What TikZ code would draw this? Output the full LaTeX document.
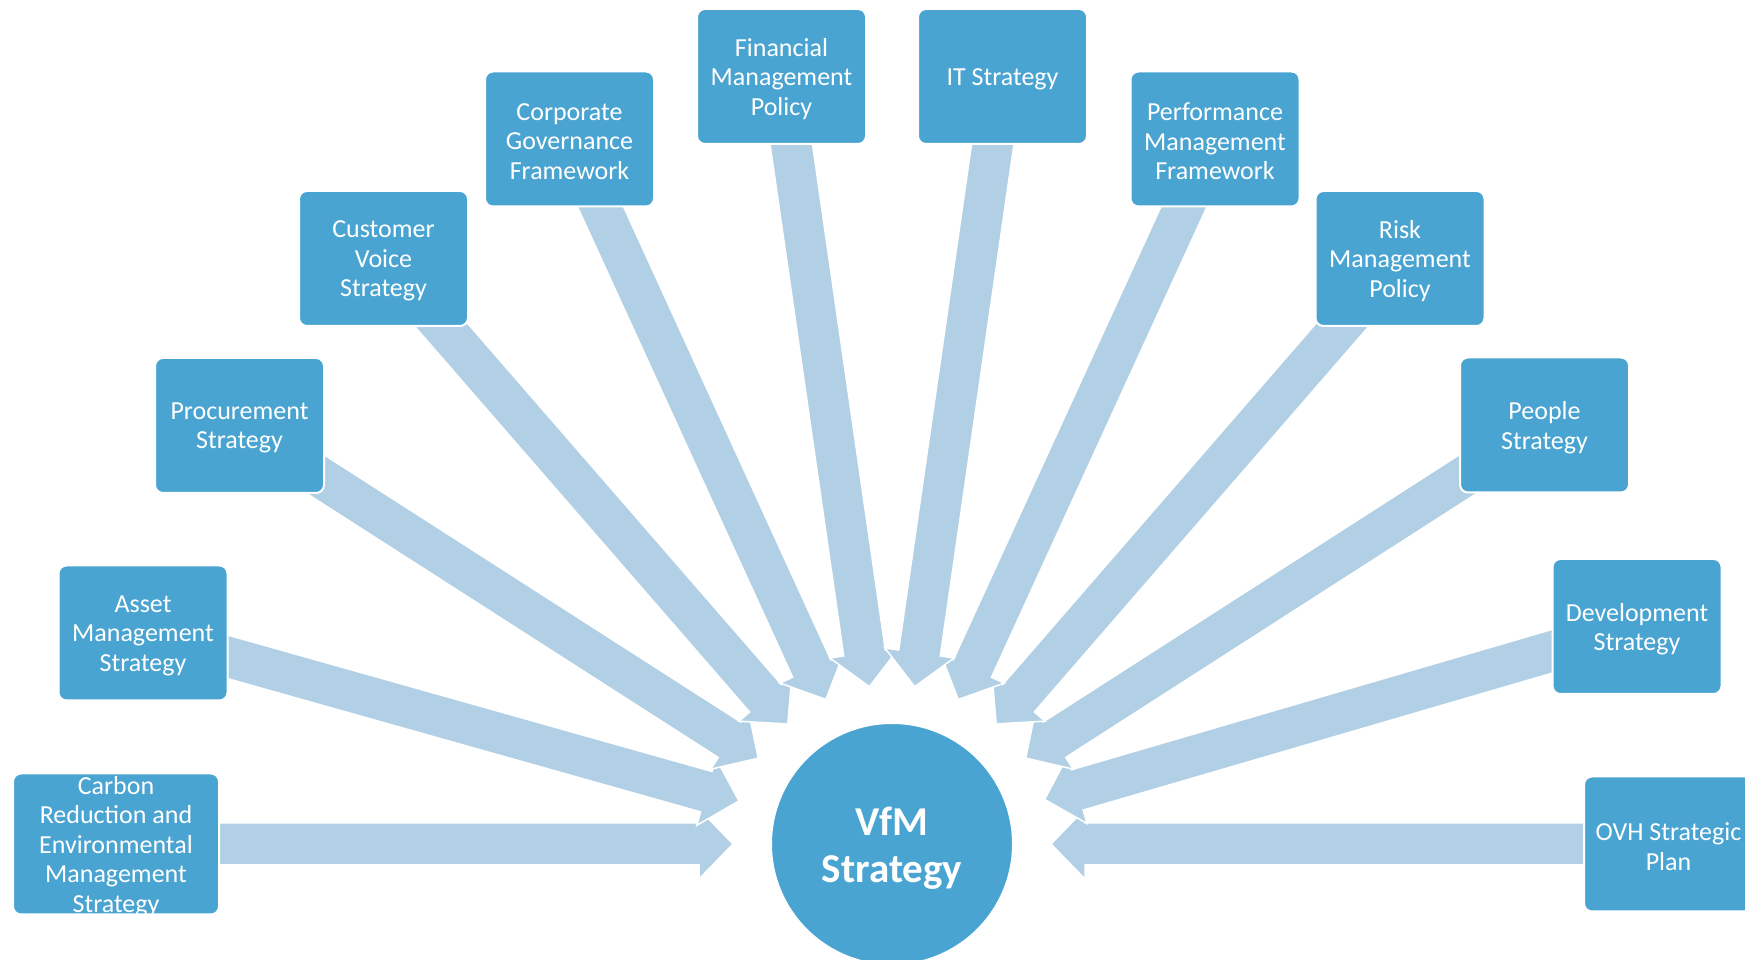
\documentclass[tikz,border=0pt]{standalone}
\usepackage{fontspec}
\setmainfont{Carlito}
\usetikzlibrary{calc,backgrounds}

\definecolor{boxblue}{RGB}{74,164,209}
\definecolor{feedblue}{RGB}{178,208,229}

\tikzset{
  box/.style={rectangle, rounded corners=8pt, fill=boxblue, draw=white,
    line width=2pt, minimum width=169pt, minimum height=135pt, inner sep=0pt},
  bigbox/.style={box, minimum width=206pt, minimum height=141pt},
  boxtext/.style={text=white, align=center, inner sep=0pt,
    font=\fontsize{26}{29.5}\selectfont},
  hubnode/.style={circle, fill=boxblue, draw=white, line width=2pt,
    minimum size=242pt, inner sep=0pt},
  hubtext/.style={text=white, align=center, inner sep=0pt,
    font=\fontsize{41}{47}\selectfont\bfseries},
  feed/.style={fill=feedblue, draw=white, line width=1.5pt, line join=miter},
}

% Block arrow running from the centre of a box towards the hub;
% the tip stops 159pt short of the hub centre.
\newcommand\feedarrow[1]{%
  \filldraw[feed] ($(hub)!159pt!(#1)$)
    -- ($(hub)!193pt!(#1)!35pt!90:(#1)$)
    -- ($(hub)!193pt!(#1)!21pt!90:(#1)$)
    -- ($(#1)!21pt!-90:(hub)$)
    -- ($(#1)!21pt!90:(hub)$)
    -- ($(hub)!193pt!(#1)!21pt!-90:(#1)$)
    -- ($(hub)!193pt!(#1)!35pt!-90:(#1)$)
    -- cycle;}

\newcommand\strategybox[4]{%
  \node[#1] (#2) at #3 {};
  \node[boxtext] (#2-t) at ([yshift=-2.5pt]#2.center) {#4};}

\begin{document}
\begin{tikzpicture}[x=1pt, y=1pt]
\useasboundingbox (0,0) rectangle (1745,960);

% central hub
\node[hubnode] (hub) at (892,116) {};
\node[hubtext] (hub-t) at ([yshift=-4pt]hub.center) {VfM\\Strategy};

% surrounding documents
\strategybox{bigbox}{carbon}{(116,116)}{Carbon\\Reduction and\\Environmental\\Management\\Strategy}
\strategybox{box}{asset}{(143,327)}{Asset\\Management\\Strategy}
\strategybox{box}{procure}{(239.5,534.5)}{Procurement\\Strategy}
\strategybox{box}{customer}{(383.5,701.5)}{Customer\\Voice\\Strategy}
\strategybox{box}{corporate}{(569.5,821)}{Corporate\\Governance\\Framework}
\strategybox{box}{financial}{(781.5,883.5)}{Financial\\Management\\Policy}
\strategybox{box}{itstrat}{(1002.5,883.5)}{IT Strategy}
\strategybox{box}{performance}{(1215,821)}{Performance\\Management\\Framework}
\strategybox{box}{risk}{(1400,701.5)}{Risk\\Management\\Policy}
\strategybox{box}{people}{(1544.5,535)}{People\\Strategy}
\strategybox{box}{develop}{(1637,333.5)}{Development\\Strategy}
\strategybox{box}{ovh}{(1668.5,116)}{OVH Strategic\\Plan}

% arrows behind everything, outer ones first
\begin{pgfonlayer}{background}
  \feedarrow{carbon}
  \feedarrow{ovh}
  \feedarrow{asset}
  \feedarrow{develop}
  \feedarrow{procure}
  \feedarrow{people}
  \feedarrow{customer}
  \feedarrow{risk}
  \feedarrow{corporate}
  \feedarrow{performance}
  \feedarrow{financial}
  \feedarrow{itstrat}
\end{pgfonlayer}
\end{tikzpicture}
\end{document}
